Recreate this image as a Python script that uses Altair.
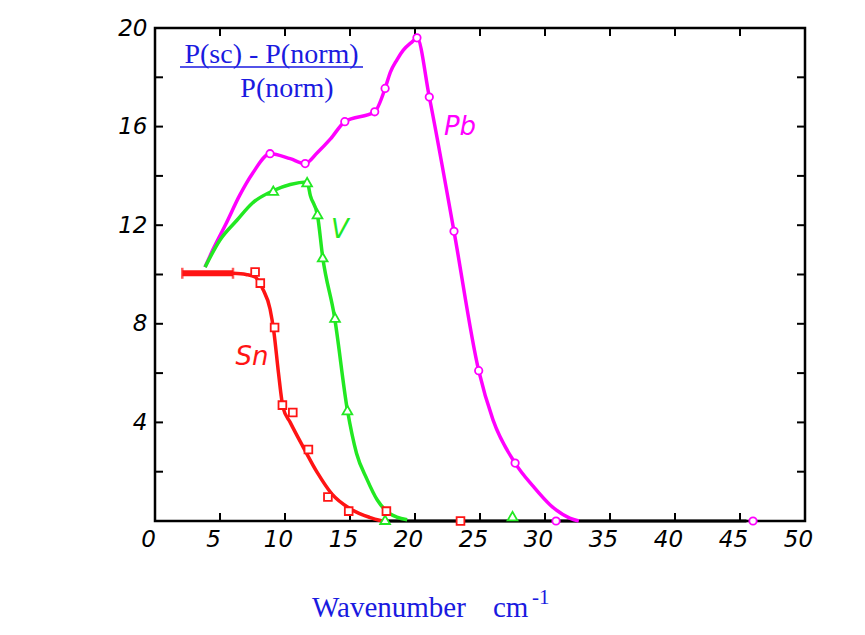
import altair as alt
import pandas as pd

# ---- data ----
x_labels = [0, 5, 10, 15, 20, 25, 30, 35, 40, 45, 50]
y_labels = [4, 8, 12, 16, 20]
x_minor = [5, 10, 15, 20, 25, 30, 35, 40, 45]
y_minor = [2, 4, 6, 8, 10, 12, 14, 16, 18]

# Sn (red): flat segment then smooth curve
sn_bar_x = [2.1, 6.0]
sn_bar_y = [10.05, 10.05]
sn_curve_x = [6.0, 7.0, 7.7, 8.3, 8.85, 9.15, 9.5, 9.85, 10.4, 11.4, 12.5, 13.6, 15.0, 16.5, 17.5]
sn_curve_y = [10.05, 10.0, 9.9, 9.4, 8.6, 7.65, 6.0, 4.6, 4.0, 3.0, 1.95, 1.1, 0.5, 0.15, 0.0]
sn_mark_x = [7.7, 8.1, 9.2, 9.8, 10.6, 11.8, 13.3, 14.9, 17.8, 23.5]
sn_mark_y = [10.1, 9.65, 7.85, 4.7, 4.4, 2.9, 0.97, 0.4, 0.4, 0.0]

# V (green)
v_curve_x = [3.85, 5.0, 6.3, 7.5, 9.1, 10.4, 11.7, 11.95, 12.5, 12.9, 13.8, 14.8, 15.5, 16.3, 17.1, 17.7, 18.6, 19.4]
v_curve_y = [10.3, 11.4, 12.2, 12.9, 13.4, 13.65, 13.75, 13.2, 12.4, 10.7, 8.3, 4.5, 2.75, 1.7, 0.85, 0.45, 0.16, 0.05]
v_mark_x = [9.1, 11.7, 12.5, 12.9, 13.85, 14.8, 17.7, 27.5]
v_mark_y = [13.4, 13.75, 12.45, 10.7, 8.25, 4.5, 0.05, 0.2]

# Pb (magenta)
pb_curve_x = [3.85, 4.45, 5.5, 6.5, 7.5, 8.85, 10.4, 11.55, 12.5, 13.5, 14.6, 16.9, 17.7, 18.1, 18.6, 19.1, 19.8,
              20.15, 21.1, 23.0, 24.9, 26.0, 27.7, 29.1, 30.4, 31.9, 32.6]
pb_curve_y = [10.3, 11.0, 12.1, 13.2, 14.1, 14.9, 14.7, 14.5, 14.95, 15.5, 16.2, 16.6, 17.55, 18.2, 18.7, 19.1, 19.45,
              19.6, 17.2, 11.75, 6.1, 4.1, 2.35, 1.4, 0.65, 0.12, 0.0]
pb_mark_x = [8.85, 11.55, 14.6, 16.9, 17.7, 20.15, 21.1, 23.0, 24.9, 27.7, 30.85, 46.0]
pb_mark_y = [14.9, 14.5, 16.2, 16.6, 17.55, 19.6, 17.2, 11.75, 6.1, 2.35, 0.0, 0.0]

zero_x = [17.3, 45.5]
zero_y = [0.0, 0.0]

RED = "#ff1414"
GREEN = "#22e822"
MAG = "#ff00ff"
BLUE = "#1a1ae0"

W, H = 650, 493

xs = alt.Scale(domain=[0, 50], nice=False, zero=False)
ys = alt.Scale(domain=[0, 20], nice=False, zero=False)

xaxis = alt.Axis(values=x_labels, title=None, ticks=False, domain=False, grid=False,
                 labelFont="DejaVu Sans", labelFontStyle="italic", labelFontSize=23,
                 labelColor="black", labelPadding=7, labelOffset=-7, labelFlush=False)
yaxis = alt.Axis(values=y_labels, title=None, ticks=False, domain=False, grid=False,
                 labelFont="DejaVu Sans", labelFontStyle="italic", labelFontSize=23,
                 labelColor="black", labelPadding=8, labelFlush=False)


def X(f="x"):
    return alt.X(f"{f}:Q", scale=xs, axis=xaxis)


def Y(f="y"):
    return alt.Y(f"{f}:Q", scale=ys, axis=yaxis)


def line(xv, yv, color, width):
    df = pd.DataFrame({"x": xv, "y": yv, "o": list(range(len(xv)))})
    return alt.Chart(df).mark_line(color=color, strokeWidth=width, interpolate="monotone").encode(
        x=X(), y=Y(), order="o:Q")


def marks(xv, yv, color, shape, size):
    df = pd.DataFrame({"x": xv, "y": yv})
    return alt.Chart(df).mark_point(shape=shape, size=size, color=color, filled=False,
                                    fill="white", fillOpacity=1, strokeWidth=1.8, opacity=1).encode(
        x=X(), y=Y())


def text(t, px, py, color, font, size, style="normal", align="center", baseline="alphabetic"):
    return alt.Chart(pd.DataFrame({"t": [t]})).mark_text(
        color=color, font=font, fontSize=size, fontStyle=style, align=align, baseline=baseline).encode(
        x=alt.value(px), y=alt.value(py), text="t:N")


# ticks (inward)
yt = pd.DataFrame({"y": y_minor})
xt = pd.DataFrame({"x": x_minor})
tick_left = alt.Chart(yt).mark_rule(color="black", strokeWidth=2).encode(y=Y(), x=alt.value(0), x2=alt.value(8))
tick_right = alt.Chart(yt).mark_rule(color="black", strokeWidth=2).encode(y=Y(), x=alt.value(W - 8), x2=alt.value(W))
tick_top = alt.Chart(xt).mark_rule(color="black", strokeWidth=2).encode(x=X(), y=alt.value(0), y2=alt.value(8))
tick_bot = alt.Chart(xt).mark_rule(color="black", strokeWidth=2).encode(x=X(), y=alt.value(H - 8), y2=alt.value(H))

sn_bar_df = pd.DataFrame({"x": sn_bar_x, "y": sn_bar_y})
sn_bar = alt.Chart(sn_bar_df).mark_line(color=RED, strokeWidth=6).encode(x=X(), y=Y())
sn_caps = alt.Chart(sn_bar_df).mark_tick(color=RED, thickness=2.5, size=11, orient="vertical").encode(x=X(), y=Y())

underline = alt.Chart(pd.DataFrame({"t": ["u"]})).mark_rule(color=BLUE, strokeWidth=1.5).encode(
    x=alt.value(25), x2=alt.value(208), y=alt.value(39))

layers = [
    tick_left, tick_right, tick_top, tick_bot,
    line(zero_x, zero_y, "black", 3),
    line(pb_curve_x, pb_curve_y, MAG, 3.5),
    line(v_curve_x, v_curve_y, GREEN, 3.5),
    line(sn_curve_x, sn_curve_y, RED, 3.5),
    sn_bar, sn_caps,
    marks(pb_mark_x, pb_mark_y, MAG, "circle", 55),
    marks(v_mark_x, v_mark_y, GREEN, "triangle-up", 95),
    marks(sn_mark_x, sn_mark_y, RED, "square", 60),
    text("Sn", 97, 329, RED, "DejaVu Sans", 26, "italic", baseline="middle"),
    text("V", 185, 202, GREEN, "DejaVu Sans", 26, "italic", baseline="middle"),
    text("Pb", 305, 99, MAG, "DejaVu Sans", 26, "italic", baseline="middle"),
    text("P(sc) - P(norm)", 116.5, 35, BLUE, "Liberation Serif", 28),
    underline,
    text("P(norm)", 132, 69, BLUE, "Liberation Serif", 28),
    text("Wavenumber", 157, 589, BLUE, "Liberation Serif", 29, align="left"),
    text("cm", 338, 589, BLUE, "Liberation Serif", 29, align="left"),
    text("-1", 377, 576, BLUE, "Liberation Serif", 21, align="left"),
]

chart = alt.layer(*layers).properties(
    width=W, height=H,
    background="white",
    autosize=alt.AutoSizeParams(type="none"),
    padding={"left": 147, "top": 20, "right": 50, "bottom": 112},
).configure_view(stroke="black", strokeWidth=2.5)

chart.save("out.html", embed_options={"renderer": "svg", "actions": False})
